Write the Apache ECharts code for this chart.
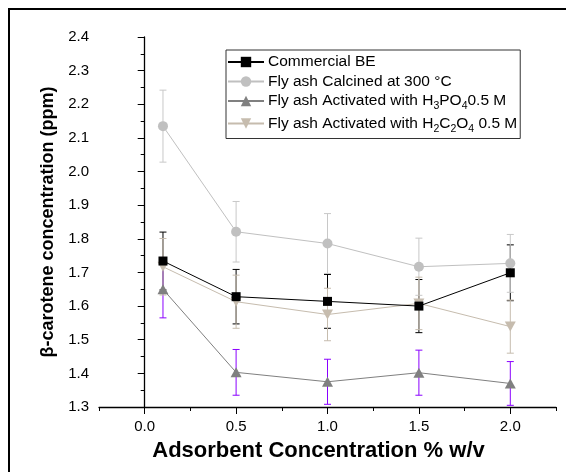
<!DOCTYPE html>
<html><head><meta charset="utf-8">
<script src="https://cdn.jsdelivr.net/npm/echarts@6/dist/echarts.min.js"></script>
<style>html,body{margin:0;padding:0;background:#fff}#c{width:566px;height:472px}</style>
</head><body><div id="c"></div>
<script>
// ---- data ----
const xValues = [0.1, 0.5, 1.0, 1.5, 2.0];
const seriesNames = ['Commercial BE', 'Fly ash Calcined at 300 °C', 'Fly ash Activated with H3PO4 0.5 M', 'Fly ash Activated with H2C2O4 0.5 M'];
const legendLabels = ['Commercial BE', 'Fly ash Calcined at 300 °C', 'Fly ash Activated with H{s|3}PO{s|4}0.5 M', 'Fly ash Activated with H{s|2}C{s|2}O{s|4} 0.5 M'];
const commercialBE = [1.734, 1.628, 1.614, 1.600, 1.699];
const commercialBEErr = [0.086, 0.081, 0.080, 0.079, 0.083];
const calcined300 = [2.135, 1.821, 1.786, 1.717, 1.727];
const calcined300Err = [0.107, 0.090, 0.089, 0.085, 0.086];
const h3po4 = [1.650, 1.403, 1.375, 1.402, 1.370];
const h3po4Err = [0.085, 0.068, 0.067, 0.067, 0.065];
const h2c2o4 = [1.717, 1.613, 1.575, 1.608, 1.539];
const h2c2o4Err = [0.084, 0.079, 0.078, 0.078, 0.079];
const xMajorTicks = [0.0, 0.5, 1.0, 1.5, 2.0];
const xMinorTicks = [-0.25, 0.25, 0.75, 1.25, 1.75, 2.25];

// ---- styles ----
const FONT = "'Liberation Sans', Arial, sans-serif";
const colors = ['#000000', '#c0c0c0', '#808080', '#c6bcae'];
const errColors = ['#000000', '#c8c8c8', '#8a00ff', '#c6bcae'];
const symbols = ['rect', 'circle', 'triangle', 'triangle'];
const symbolSizes = [9, 10, [11, 10], [11, 10]];
const symbolRotates = [0, 0, 0, 180];
const values = [commercialBE, calcined300, h3po4, h2c2o4];
const errs = [commercialBEErr, calcined300Err, h3po4Err, h2c2o4Err];
const zOrder = [6, 3, 4, 5];

function errSeries(i) {
  const color = errColors[i];
  return {
    type: 'custom', name: seriesNames[i] + ' err', silent: true, z: 2,
    data: xValues.map((x, k) => [x, values[i][k] - errs[i][k], values[i][k] + errs[i][k]]),
    encode: { x: 0, y: [1, 2] },
    renderItem: function (params, api) {
      const x = api.value(0);
      const pLo = api.coord([x, api.value(1)]);
      const pHi = api.coord([x, api.value(2)]);
      const w = 3.5;
      const st = { stroke: color, lineWidth: 1 };
      return { type: 'group', children: [
        { type: 'line', shape: { x1: pHi[0], y1: pHi[1], x2: pLo[0], y2: pLo[1] }, style: st },
        { type: 'line', shape: { x1: pHi[0] - w, y1: pHi[1], x2: pHi[0] + w, y2: pHi[1] }, style: st },
        { type: 'line', shape: { x1: pLo[0] - w, y1: pLo[1], x2: pLo[0] + w, y2: pLo[1] }, style: st }
      ]};
    }
  };
}

const lineSeries = seriesNames.map((name, i) => ({
  type: 'line', name: name, z: zOrder[i],
  data: xValues.map((x, k) => [x, values[i][k]]),
  symbol: symbols[i], symbolSize: symbolSizes[i], symbolRotate: symbolRotates[i],
  showAllSymbol: true,
  lineStyle: { color: colors[i], width: 1 },
  itemStyle: { color: colors[i], borderWidth: 0 },
  emphasis: { disabled: true }
}));

const chart = echarts.init(document.getElementById('c'), null, { renderer: 'canvas' });
chart.setOption({
  animation: false,
  backgroundColor: '#fff',
  textStyle: { fontFamily: FONT },
  graphic: [{ type: 'rect', z: -10, shape: { x: 9, y: 9, width: 700, height: 700 }, style: { fill: 'none', stroke: '#000', lineWidth: 2 } }],
  grid: { left: 99, right: 10, top: 37, bottom: 65 },
  legend: {
    orient: 'vertical', left: 226, top: 50,
    data: seriesNames,
    formatter: function (name) { return legendLabels[seriesNames.indexOf(name)]; },
    itemWidth: 36, itemHeight: 13, itemGap: 3.5,
    padding: [4, 3, 4, 1],
    borderColor: '#333', borderWidth: 1, backgroundColor: '#fff',
    textStyle: { fontFamily: FONT, fontSize: 15.5, color: '#000', padding: [0, 0, 0, -1],
      rich: { s: { fontFamily: FONT, fontSize: 10.5, lineHeight: 10, verticalAlign: 'top', padding: [8, 0, 0, 0] } } }
  },
  xAxis: [{
    type: 'value', min: -0.25, max: 2.25,
    name: 'Adsorbent Concentration % w/v', nameLocation: 'middle', nameGap: 33,
    nameTextStyle: { fontFamily: FONT, fontSize: 22, fontWeight: 'bold', color: '#000', padding: [0, 18, 0, 0] },
    axisLine: { lineStyle: { color: '#000', width: 1.3 } },
    axisTick: { show: true, length: 7, customValues: xMajorTicks, lineStyle: { color: '#000', width: 1 } },
    axisLabel: { customValues: xMajorTicks, fontFamily: FONT, fontSize: 15, color: '#000', margin: 12, formatter: v => v.toFixed(1) },
    splitLine: { show: false }
  }, {
    type: 'value', min: -0.25, max: 2.25, position: 'bottom',
    axisLine: { show: false },
    axisTick: { show: true, length: 4, customValues: xMinorTicks, lineStyle: { color: '#000', width: 1 } },
    axisLabel: { show: false },
    splitLine: { show: false }
  }],
  yAxis: {
    type: 'value', min: 1.3, max: 2.4, interval: 0.1,
    name: 'β-carotene concentration (ppm)', nameLocation: 'middle', nameGap: 41,
    nameTextStyle: { fontFamily: FONT, fontSize: 18, fontWeight: 'bold', color: '#000' },
    axisLine: { show: true, lineStyle: { color: '#000', width: 1.3 } },
    axisTick: { show: true, length: 7, lineStyle: { color: '#000', width: 1 } },
    minorTick: { show: true, splitNumber: 2, length: 4, lineStyle: { color: '#000', width: 1 } },
    axisLabel: { fontFamily: FONT, fontSize: 15, color: '#000', margin: 10, formatter: v => v.toFixed(1) },
    splitLine: { show: false }
  },
  series: [0, 1, 2, 3].map(errSeries).concat(lineSeries)
});
</script></body></html>
